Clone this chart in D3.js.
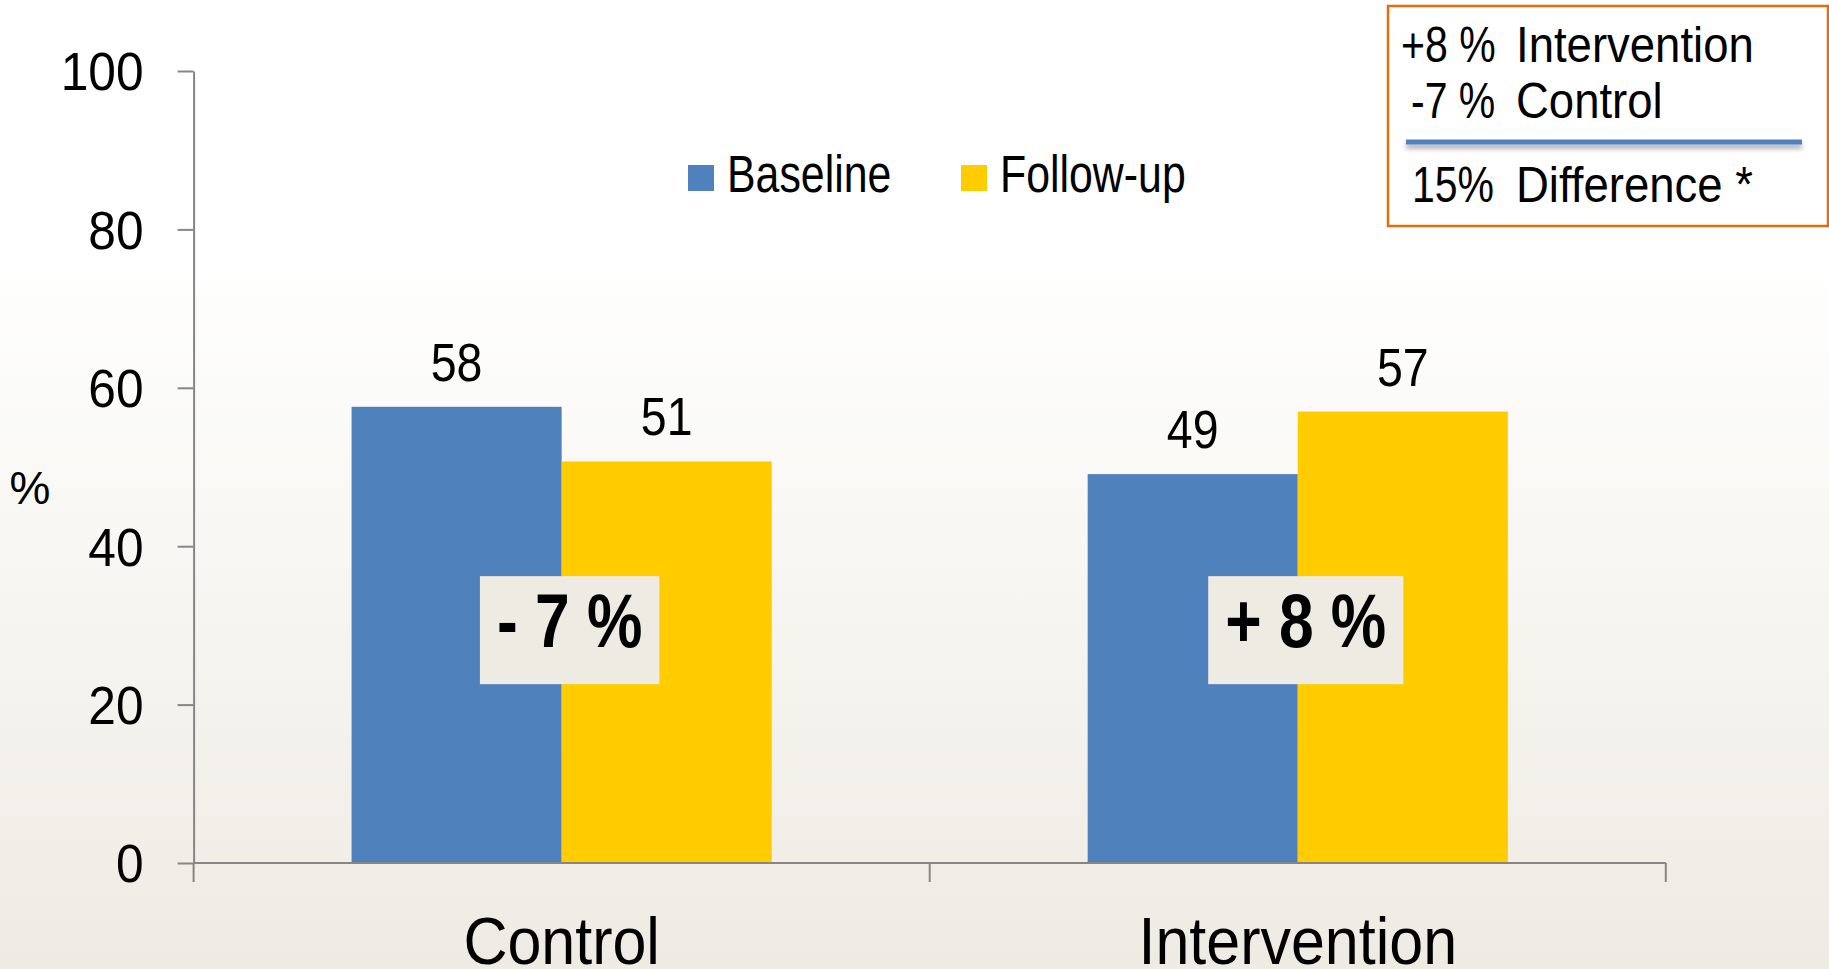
<!DOCTYPE html>
<head>
  <meta charset="utf-8" />
  <script src="https://d3js.org/d3.v7.min.js"></script>
  <style>
    body { margin: 0; background: #fff; }
    text { font-family: "Liberation Sans", Arial, sans-serif; fill: #000; }
  </style>
</head>
<body>
<script>
  // donnees
  var categories = ["Control", "Intervention"];
  var series = ["Baseline", "Follow-up"];
  var baseline = [57.6, 49.1];
  var followUp = [50.7, 57.0];
  var changes = ["- 7 %", "+ 8 %"];
  var yTicks = [0, 20, 40, 60, 80, 100];
  var colors = ["#4F81BD", "#FFCC00"];
  var summaryRows = [["+8 %", "Intervention"], ["-7 %", "Control"]];
  var summaryTotal = ["15%", "Difference *"];

  var width = 1829, height = 969;

  // pas de police etroite installee : on compresse le texte en largeur
  function narrow(k) {
    return function (sel) {
      sel.each(function () {
        var len = this.getComputedTextLength();
        if (len > 0) {
          d3.select(this)
            .attr("textLength", len * k)
            .attr("lengthAdjust", "spacingAndGlyphs");
        }
      });
    };
  }

  var svg = d3.select("body").append("svg")
    .attr("width", width)
    .attr("height", height);

  // fond degrade
  var defs = svg.append("defs");
  var grad = defs.append("linearGradient").attr("id", "bg")
    .attr("x1", 0).attr("y1", 0).attr("x2", 0).attr("y2", 1);
  grad.append("stop").attr("offset", "0%").attr("stop-color", "#FEFEFD");
  grad.append("stop").attr("offset", "100%").attr("stop-color", "#EEEBE3");
  var shadow = defs.append("filter").attr("id", "shadow")
    .attr("filterUnits", "userSpaceOnUse")
    .attr("x", 1390).attr("y", 130).attr("width", 430).attr("height", 30);
  shadow.append("feDropShadow").attr("dx", 0).attr("dy", 4).attr("stdDeviation", 2.5)
    .attr("flood-color", "#000").attr("flood-opacity", 0.35);

  svg.append("rect").attr("width", width).attr("height", height).attr("fill", "#fff");
  svg.append("rect").attr("y", 282).attr("width", width).attr("height", height - 282).attr("fill", "url(#bg)");

  var x0 = d3.scaleBand().domain(categories).range([193.6, 1665.8]).padding(0);
  var x1 = d3.scaleBand().domain(series).range([0, x0.bandwidth()])
    .paddingInner(0).paddingOuter(0.752);
  var y = d3.scaleLinear().domain([0, 100]).range([863, 71]);

  var rows = categories.map(function (c, i) {
    return { cat: c, values: [baseline[i], followUp[i]], change: changes[i] };
  });

  // barres
  var groups = svg.selectAll("g.cat")
    .data(rows)
    .join("g")
    .attr("class", "cat")
    .attr("transform", function (d) { return "translate(" + x0(d.cat) + ",0)"; });

  groups.selectAll("rect")
    .data(function (d) { return d.values.map(function (v, k) { return { s: series[k], v: v, k: k }; }); })
    .join("rect")
    .attr("x", function (d) { return x1(d.s); })
    .attr("y", function (d) { return y(d.v); })
    .attr("width", x1.bandwidth())
    .attr("height", function (d) { return y(0) - y(d.v); })
    .attr("fill", function (d) { return colors[d.k]; });

  groups.selectAll("text.val")
    .data(function (d) { return d.values.map(function (v, k) { return { s: series[k], v: v }; }); })
    .join("text")
    .attr("class", "val")
    .attr("x", function (d) { return x1(d.s) + x1.bandwidth() / 2; })
    .attr("y", function (d) { return y(d.v) - 26; })
    .attr("text-anchor", "middle")
    .style("font-size", "54px")
    .text(function (d) { return Math.round(d.v); })
    .call(narrow(0.86));

  // boites de variation
  groups.each(function (d) {
    var g = d3.select(this);
    var cx = x0.bandwidth() / 2 + 8;
    var box = g.append("rect").attr("fill", "#EDEBE2");
    var t = g.append("text")
      .attr("x", cx)
      .attr("y", y(29.4) + 17)
      .attr("text-anchor", "middle")
      .style("font-size", "76px")
      .style("font-weight", "bold")
      .text(d.change);
    var w = t.node().getComputedTextLength() * 0.82 + 34;
    t.call(narrow(0.82));
    box.attr("x", cx - w / 2).attr("width", w)
      .attr("y", y(29.4) - 54).attr("height", 108);
  });

  // axe y
  var yAxis = svg.append("g")
    .attr("transform", "translate(193.6,0)")
    .call(d3.axisLeft(y).tickValues(yTicks).tickSize(16).tickSizeOuter(0).tickPadding(34));
  yAxis.select(".domain").attr("stroke", "#868686").attr("stroke-width", 2);
  yAxis.selectAll(".tick line").attr("stroke", "#868686").attr("stroke-width", 2);
  yAxis.attr("font-family", null).attr("font-size", null);
  yAxis.selectAll(".tick text")
    .attr("dy", "0.35em")
    .style("font-size", "54px")
    .call(narrow(0.92));

  // axe x
  var bounds = categories.map(function (c) { return x0(c); }).concat([x0.range()[1]]);
  svg.append("line")
    .attr("x1", x0.range()[0]).attr("x2", x0.range()[1])
    .attr("y1", y(0)).attr("y2", y(0))
    .attr("stroke", "#868686").attr("stroke-width", 2);
  svg.selectAll("line.xtick")
    .data(bounds)
    .join("line")
    .attr("class", "xtick")
    .attr("x1", function (d) { return d; }).attr("x2", function (d) { return d; })
    .attr("y1", y(0)).attr("y2", y(0) + 19)
    .attr("stroke", "#868686").attr("stroke-width", 2);

  svg.selectAll("text.cat")
    .data(categories)
    .join("text")
    .attr("class", "cat")
    .attr("x", function (d) { return x0(d) + x0.bandwidth() / 2; })
    .attr("y", 964)
    .attr("text-anchor", "middle")
    .style("font-size", "67px")
    .text(function (d) { return d; })
    .call(narrow(0.91));

  svg.append("text")
    .attr("x", 30).attr("y", 504)
    .attr("text-anchor", "middle")
    .style("font-size", "46px")
    .text("%");

  // legende
  var legendX = [688, 961];
  var legend = svg.selectAll("g.legend")
    .data(series)
    .join("g")
    .attr("class", "legend")
    .attr("transform", function (d, i) { return "translate(" + legendX[i] + ",165)"; });
  legend.append("rect").attr("width", 26).attr("height", 26)
    .attr("fill", function (d, i) { return colors[i]; });
  legend.append("text").attr("x", 39).attr("y", 27)
    .style("font-size", "51px")
    .text(function (d) { return d; })
    .call(narrow(0.84));

  // encadre resume
  var sb = svg.append("g");
  sb.append("rect")
    .attr("x", 1388).attr("y", 6).attr("width", 440).attr("height", 220)
    .attr("fill", "#fff").attr("stroke", "#E46C0A").attr("stroke-width", 2.5);
  sb.selectAll("text.pct")
    .data(summaryRows)
    .join("text")
    .attr("class", "pct")
    .attr("x", function (d, i) { return i === 0 ? 1401 : 1411; })
    .attr("y", function (d, i) { return 62 + i * 56; })
    .style("font-size", "50px")
    .text(function (d) { return d[0]; })
    .call(narrow(0.82));
  sb.selectAll("text.lab")
    .data(summaryRows)
    .join("text")
    .attr("class", "lab")
    .attr("x", 1516)
    .attr("y", function (d, i) { return 62 + i * 56; })
    .style("font-size", "50px")
    .text(function (d) { return d[1]; })
    .call(narrow(0.91));
  sb.append("line")
    .attr("x1", 1406).attr("x2", 1802).attr("y1", 142).attr("y2", 142)
    .attr("stroke", "#4F81BD").attr("stroke-width", 5)
    .attr("filter", "url(#shadow)");
  sb.append("text").attr("x", 1412).attr("y", 202)
    .style("font-size", "50px").text(summaryTotal[0]).call(narrow(0.82));
  sb.append("text").attr("x", 1516).attr("y", 202)
    .style("font-size", "50px").text(summaryTotal[1]).call(narrow(0.91));
</script>
</body>
